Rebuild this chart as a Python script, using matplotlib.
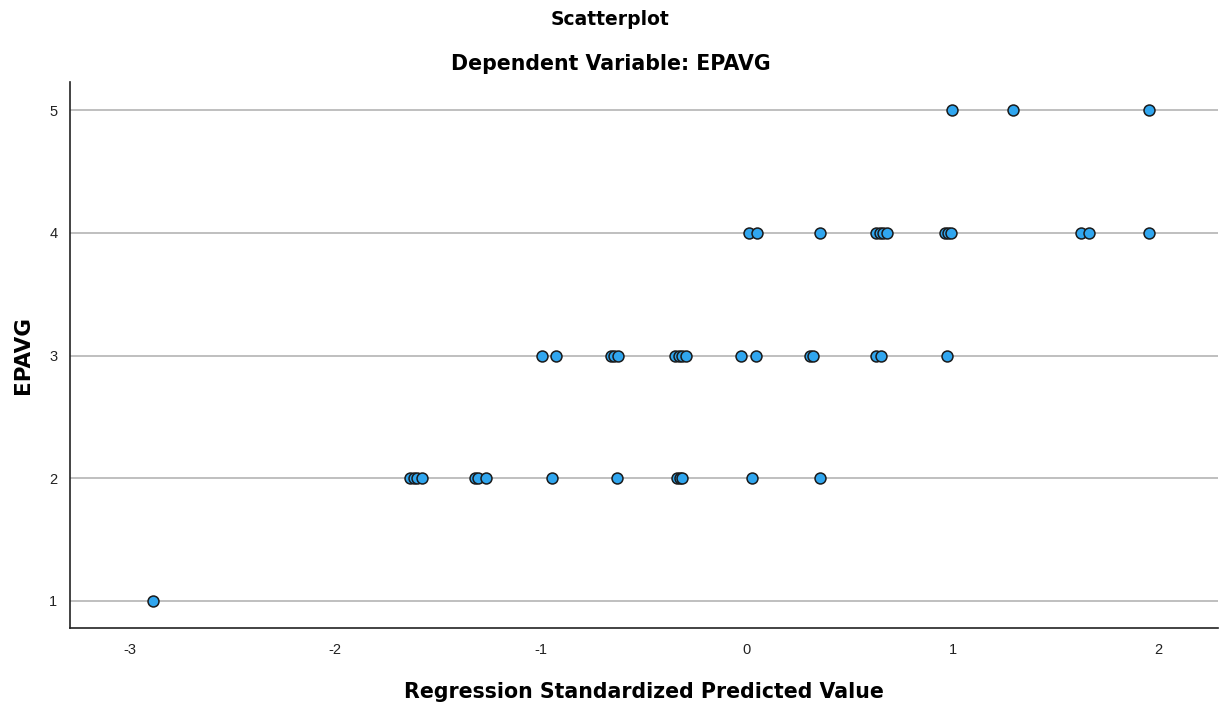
import numpy as np
import matplotlib.pyplot as plt

plt.rcParams['font.family'] = ['Liberation Sans', 'DejaVu Sans']
plt.rcParams['axes.unicode_minus'] = False

# predicted values (standardized) grouped by observed EPAVG level
x_lvl1 = [-2.887]
x_lvl2 = [-1.636, -1.620, -1.603, -1.579, -1.320, -1.309, -1.268, -0.948,
          -0.631, -0.338, -0.325, -0.317, 0.023, 0.358]
x_lvl3 = [-0.997, -0.926, -0.660, -0.646, -0.626, -0.350, -0.330, -0.316,
          -0.296, -0.029, 0.047, 0.306, 0.320, 0.626, 0.654, 0.974]
x_lvl4 = [0.011, 0.050, 0.358, 0.626, 0.646, 0.662, 0.681, 0.961, 0.977,
          0.994, 1.625, 1.665, 1.956]
x_lvl5 = [0.997, 1.293, 1.956]

xs = x_lvl1 + x_lvl2 + x_lvl3 + x_lvl4 + x_lvl5
ys = ([1] * len(x_lvl1) + [2] * len(x_lvl2) + [3] * len(x_lvl3)
      + [4] * len(x_lvl4) + [5] * len(x_lvl5))

xticks = [-3, -2, -1, 0, 1, 2]
yticks = [1, 2, 3, 4, 5]

fig = plt.figure(figsize=(12.21, 7.06), dpi=100)
ax = fig.add_axes([0.0573, 0.1105, 0.9402, 0.7734])

ax.set_axisbelow(True)
ax.grid(axis='y', color='#b4b4b4', linewidth=1.2)
ax.scatter(xs, ys, s=62, facecolor='#30a6ef', edgecolor='#1a1a1a',
           linewidth=1.1, zorder=3)

ax.set_xlim(-3.29, 2.29)
ax.set_ylim(0.78, 5.23)
ax.set_xticks(xticks)
ax.set_yticks(yticks)
ax.tick_params(length=0, labelsize=10.5, pad=11, labelcolor='#222222')
ax.tick_params(axis='y', pad=9)
for s in ['top', 'right']:
    ax.spines[s].set_visible(False)
for s in ['left', 'bottom']:
    ax.spines[s].set_color('#222222')
    ax.spines[s].set_linewidth(1.2)

bold = dict(family='DejaVu Sans', fontweight='bold')
ax.set_xlabel('Regression Standardized Predicted Value', fontsize=14.8,
              labelpad=18, **bold)
ax.set_ylabel('EPAVG', fontsize=15.5, labelpad=12, **bold)

fig.text(0.5, 0.972, 'Scatterplot', ha='center', va='center',
         fontsize=13.5, **bold)
fig.text(0.5, 0.909, 'Dependent Variable: EPAVG', ha='center',
         va='center', fontsize=14.8, **bold)

fig.savefig('out.png', dpi=100)
